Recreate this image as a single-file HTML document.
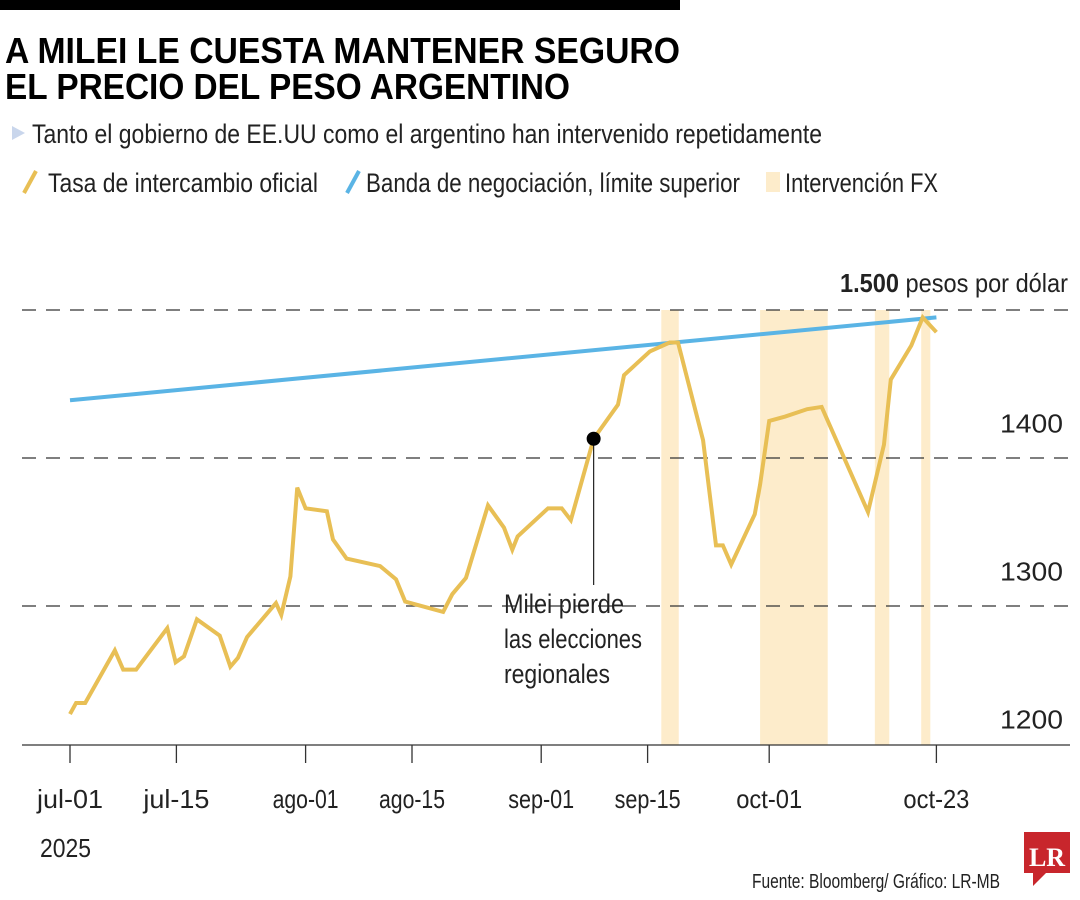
<!DOCTYPE html>
<html><head><meta charset="utf-8"><style>
html,body{margin:0;padding:0;background:#fff;}
svg{display:block;font-family:"Liberation Sans",sans-serif;}
</style></head><body>
<svg id="chart" width="1080" height="900" viewBox="0 0 1080 900">
<rect x="0" y="0" width="680" height="10" fill="#000"/>
<text x="5" y="63" font-size="36" font-weight="bold" textLength="675" lengthAdjust="spacingAndGlyphs">A MILEI LE CUESTA MANTENER SEGURO</text>
<text x="5" y="99" font-size="36" font-weight="bold" textLength="565" lengthAdjust="spacingAndGlyphs">EL PRECIO DEL PESO ARGENTINO</text>
<polygon points="12,126 12,140 25,133" fill="#c9d6ec"/>
<text x="32" y="143" font-size="27" fill="#222" textLength="790" lengthAdjust="spacingAndGlyphs">Tanto el gobierno de EE.UU como el argentino han intervenido repetidamente</text>
<g>
<line x1="24" y1="193" x2="36" y2="171" stroke="#e8bf55" stroke-width="4"/>
<text x="48" y="192" font-size="27" fill="#222" textLength="270" lengthAdjust="spacingAndGlyphs">Tasa de intercambio oficial</text>
<line x1="347" y1="193" x2="359" y2="171" stroke="#5ab4e5" stroke-width="4"/>
<text x="366" y="192" font-size="27" fill="#222" textLength="374" lengthAdjust="spacingAndGlyphs">Banda de negociación, límite superior</text>
<rect x="766" y="172" width="14" height="20" fill="#fdeccb"/>
<text x="785" y="192" font-size="27" fill="#222" textLength="153" lengthAdjust="spacingAndGlyphs">Intervención FX</text>
</g>
<g id="plot"></g>
<text x="752" y="888" font-size="20" fill="#222" textLength="248" lengthAdjust="spacingAndGlyphs">Fuente: Bloomberg/ Gráfico: LR-MB</text>
<g>
<path d="M1024,832 h46 v41 h-24 l-13,13 v-13 h-9 z" fill="#c8262c"/>
<text x="1047" y="866" font-size="26" font-weight="bold" fill="#fff" text-anchor="middle" font-family="Liberation Serif">LR</text>
</g>
</svg>
<script>
const days=[0,0.8,2,5.9,7,8.7,12.8,13.9,15,16.7,19.7,21.1,22.1,23.3,27.1,27.8,29,29.9,31,33.8,34.6,36.4,40.8,42.9,44.1,49.1,50.3,52.1,55,57.1,58.2,58.9,62.9,64.7,65.9,68.9,72.1,72.9,76.3,78.9,80,83.3,85,85.9,87,90.1,90.8,92,94.1,97,98.9,105,107.1,108,110.7,112.2,114];
const rates=[1227,1234.5,1234.5,1270,1257,1257,1285,1262,1266,1291,1280,1259,1265,1279,1302,1294,1320,1380,1366,1364,1345,1332,1327,1318,1303,1296,1308,1319,1368,1353,1338,1347,1366,1366,1358,1413,1436,1456,1472,1478,1478,1412,1341,1341,1328,1362,1382,1425,1428,1433,1434.5,1363.5,1409,1453,1476,1495,1485];
const bandDays=[0,114];
const bandValues=[1439,1495];
const fxStart=[77.8,90.8,105.9,112];
const fxEnd=[80.1,99.7,107.8,113.2];
const yTicks=[1500,1400,1300];
const yLabels=["1400","1300","1200"];
const yLabelValues=[1424,1324,1224];
const xTickDays=[0,14,31,45,62,76,92,114];
const xTickLabels=["jul-01","jul-15","ago-01","ago-15","sep-01","sep-15","oct-01","oct-23"];
const eventDay=68.9, eventValue=1413;

const X=d=>70+d*7.6;
const Y=v=>310+(1500-v)*1.48;
const NS="http://www.w3.org/2000/svg";
const plot=document.getElementById('plot');
function mk(tag,attrs,parent){const e=document.createElementNS(NS,tag);for(const k in attrs)e.setAttribute(k,attrs[k]);(parent||plot).appendChild(e);return e;}

for(let i=0;i<fxStart.length;i++){
  const r=mk('rect',{x:X(fxStart[i]),y:Y(1500),width:X(fxEnd[i])-X(fxStart[i]),height:745-Y(1500),fill:'#fdeccb'});
  
  
}
yTicks.forEach(v=>{
  const l=mk('line',{x1:22,x2:1070,y1:Y(v),y2:Y(v),stroke:'#333','stroke-width':1.3,'stroke-dasharray':'14 10'});
  
  
});
const ax=mk('line',{x1:22,x2:1070,y1:745,y2:745,stroke:'#333','stroke-width':1.3});


yLabels.forEach((t,i)=>{
  const e=mk('text',{x:1000,y:Y(yLabelValues[i])+10,'font-size':26,fill:'#222',textLength:63,lengthAdjust:'spacingAndGlyphs'});
  e.textContent=t;
  
  
});
const topLbl=mk('text',{x:840,y:292,'font-size':26,fill:'#222',textLength:228,lengthAdjust:'spacingAndGlyphs'});
topLbl.innerHTML='<tspan font-weight="bold">1.500</tspan> pesos por dólar';


xTickDays.forEach((d,i)=>{
  const t=mk('line',{x1:X(d),x2:X(d),y1:745,y2:763,stroke:'#333','stroke-width':1.3});
  
  
  const w=xTickLabels[i].length*11;
  const e=mk('text',{x:X(d)-w/2,y:808,'font-size':26,fill:'#222',textLength:w,lengthAdjust:'spacingAndGlyphs'});
  e.textContent=xTickLabels[i];
  
  
});
const yr=mk('text',{x:40,y:857,'font-size':26,fill:'#222',textLength:51,lengthAdjust:'spacingAndGlyphs'});
yr.textContent='2025';



const band=mk('polyline',{points:bandDays.map((d,i)=>X(d)+','+Y(bandValues[i])).join(' '),fill:'none',stroke:'#5ab4e5','stroke-width':4});


const line=mk('polyline',{points:days.map((d,i)=>X(d)+','+Y(rates[i])).join(' '),fill:'none',stroke:'#e8bf55','stroke-width':4,'stroke-linejoin':'miter'});



const al=mk('line',{x1:X(eventDay),x2:X(eventDay),y1:Y(eventValue),y2:585,stroke:'#222','stroke-width':1.2});


const dot=mk('circle',{cx:X(eventDay),cy:Y(eventValue),r:7,fill:'#000'});


const annLines=["Milei pierde","las elecciones","regionales"];
const annW=[120,138,106];
annLines.forEach((t,i)=>{
  const e=mk('text',{x:504,y:613+i*35,'font-size':27,fill:'#222',textLength:annW[i],lengthAdjust:'spacingAndGlyphs'});
  e.textContent=t;
  
  
});
</script>
</body></html>
